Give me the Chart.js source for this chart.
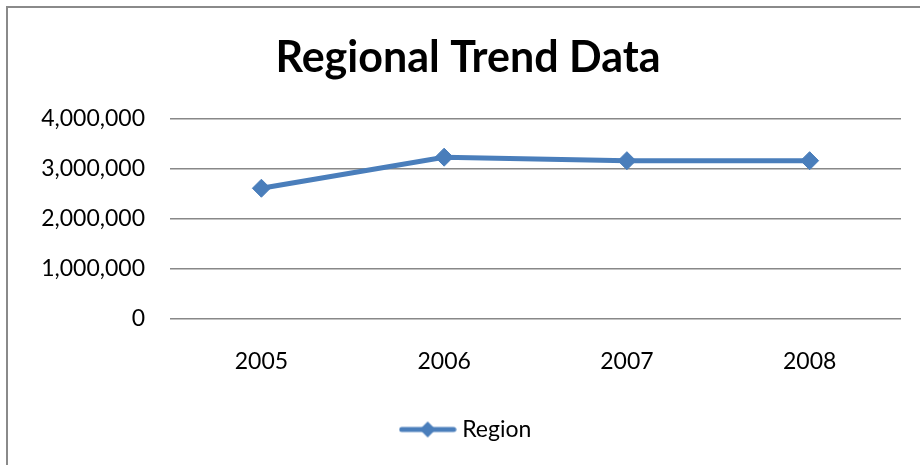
<!DOCTYPE html>
<html>
<head>
<meta charset="utf-8">
<script src="https://cdn.jsdelivr.net/npm/chart.js@4"></script>
<style>
  html, body { margin: 0; padding: 0; background: #ffffff; }
  #wrap { width: 920px; height: 465px; position: relative; }
</style>
</head>
<body>
<div id="wrap"><canvas id="c" width="920" height="465"></canvas></div>
<script>
const categories = ['2005', '2006', '2007', '2008'];
const regionValues = [2610000, 3230000, 3160000, 3160000];
const seriesName = 'Region';
const chartTitle = 'Regional Trend Data';
const yTickValues = [0, 1000000, 2000000, 3000000, 4000000];

const BLUE = '#4A7EBB';
const FONT = 'Lato, "Open Sans", sans-serif';

// legend marker: line with a diamond
const legendIcon = document.createElement('canvas');
legendIcon.width = 58; legendIcon.height = 18;
(function () {
  const g = legendIcon.getContext('2d');
  g.strokeStyle = BLUE; g.lineWidth = 5; g.lineCap = 'round';
  g.beginPath(); g.moveTo(3, 9); g.lineTo(55, 9); g.stroke();
  g.fillStyle = BLUE;
  g.beginPath(); g.moveTo(29, 1); g.lineTo(37, 9); g.lineTo(29, 17); g.lineTo(21, 9); g.closePath(); g.fill();
})();

const borderPlugin = {
  id: 'outerBorder',
  beforeDraw(chart) {
    const ctx = chart.ctx;
    ctx.save();
    ctx.fillStyle = '#ffffff';
    ctx.fillRect(0, 0, chart.width, chart.height);
    ctx.strokeStyle = '#8a8a8a';
    ctx.lineWidth = 2;
    ctx.strokeRect(7, 7, 1000, 1000);
    ctx.restore();
  }
};

new Chart(document.getElementById('c'), {
  type: 'line',
  data: {
    labels: categories,
    datasets: [{
      label: seriesName,
      data: regionValues,
      borderColor: BLUE,
      backgroundColor: BLUE,
      borderWidth: 5,
      pointStyle: 'rectRot',
      pointRadius: 9,
      pointHoverRadius: 9,
      pointBorderWidth: 1,
      pointBackgroundColor: BLUE,
      pointBorderColor: BLUE,
      tension: 0,
      fill: false
    }]
  },
  options: {
    responsive: false,
    animation: false,
    devicePixelRatio: 1,
    layout: { padding: { left: 35, right: 19, top: 7, bottom: 14 } },
    plugins: {
      title: {
        display: true,
        text: chartTitle,
        color: '#000000',
        font: { family: FONT, size: 43, weight: 'bold' },
        padding: { top: 25, bottom: 35 }
      },
      legend: {
        display: true,
        position: 'bottom',
        labels: {
          color: '#000000',
          font: { family: FONT, size: 23 },
          usePointStyle: true,
          pointStyleWidth: 46,
          padding: 10,
          generateLabels(chart) {
            return chart.data.datasets.map((ds, i) => ({
              text: ds.label,
              fillStyle: BLUE,
              strokeStyle: BLUE,
              lineWidth: 0,
              pointStyle: legendIcon,
              datasetIndex: i,
              hidden: false,
              fontColor: '#000000'
            }));
          }
        }
      },
      tooltip: { enabled: false }
    },
    scales: {
      x: {
        offset: true,
        grid: { display: false, drawTicks: false },
        border: { display: false },
        ticks: {
          color: '#000000',
          font: { family: FONT, size: 23 },
          padding: 29,
          maxRotation: 0
        },
        afterFit(scale) { scale.height = 89; }
      },
      y: {
        min: yTickValues[0],
        max: yTickValues[yTickValues.length - 1],
        afterBuildTicks(scale) { scale.ticks = yTickValues.map(v => ({ value: v })); },
        grid: { color: '#888888', lineWidth: 1.6, drawTicks: false },
        border: { display: false },
        ticks: {
          color: '#000000',
          font: { family: FONT, size: 23 },
          padding: 25,
          callback: (v) => Number(v).toLocaleString('en-US')
        },
        afterFit(scale) { scale.width = 135; }
      }
    }
  },
  plugins: [borderPlugin]
});
</script>
</body>
</html>
